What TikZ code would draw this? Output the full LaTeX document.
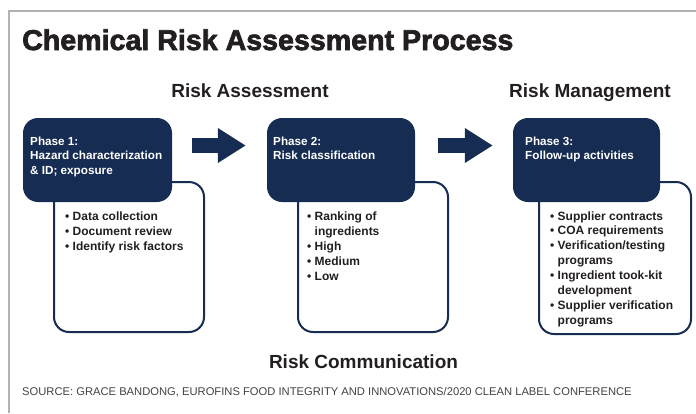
\documentclass[tikz,border=0pt]{standalone}
\usepackage{fontspec}
\setmainfont{Liberation Sans}
\newfontfamily\heavyfont{Liberation Sans Bold}[FakeBold=2.5]
\usetikzlibrary{arrows.meta, calc}
\definecolor{NavyBox}{RGB}{22, 44, 82}
\definecolor{InkDark}{RGB}{35, 31, 32}
\definecolor{FrameGray}{RGB}{178, 178, 178}

\begin{document}
\begin{tikzpicture}[x=1pt, y=-1pt,
    phasebox/.style={fill=NavyBox, rounded corners=15pt, inner sep=0pt},
    listbox/.style={draw=NavyBox, line width=2pt, fill=white, rounded corners=15pt, inner sep=0pt},
    headtext/.style={anchor=base west, inner sep=0pt, text=white, font=\bfseries\fontsize{11.7}{14}\selectfont},
    itemtext/.style={anchor=base west, inner sep=0pt, text=InkDark, font=\bfseries\fontsize{12}{14}\selectfont},
    stagelabel/.style={anchor=base, inner sep=0pt, text=InkDark, font=\bfseries\fontsize{19}{22}\selectfont},
    blockarrow/.style={NavyBox, line width=15pt, -{Triangle[length=28pt, width=33pt]}}]
    \useasboundingbox (0,0) rectangle (696,413);

    % Frame
    \draw[FrameGray, line width=1.2pt] (9,413) -- (9,11) -- (696,11);

    % Title and stage labels
    \node[anchor=base west, inner sep=0pt, text=InkDark, font=\heavyfont\fontsize{28.6}{30}\selectfont] (title) at (22,50) {Chemical Risk Assessment Process};
    \node[stagelabel] (assess) at (250,97) {Risk Assessment};
    \node[stagelabel] (manage) at (590,97) {Risk Management};
    \node[stagelabel] (comm) at (363.5,368) {Risk Communication};

    % List boxes (behind)
    \node[listbox, minimum width=150pt, minimum height=150pt] (list1) at (129,257) {};
    \node[listbox, minimum width=150pt, minimum height=150pt] (list2) at (373,257) {};
    \node[listbox, minimum width=152pt, minimum height=152pt] (list3) at (615,258) {};

    % Phase boxes
    \node[phasebox, minimum width=149pt, minimum height=84pt] (ph1) at (97.5,160) {};
    \node[phasebox, minimum width=148pt, minimum height=84pt] (ph2) at (341,160) {};
    \node[phasebox, minimum width=147pt, minimum height=84pt] (ph3) at (586.5,160) {};

    % Arrows between phases
    \draw[blockarrow] ($(ph1.east)+(20,-14.5)$) -- ($(ph2.west)+(-21,-14.5)$);
    \draw[blockarrow] ($(ph2.east)+(23,-14.5)$) -- ($(ph3.west)+(-20,-14.5)$);

    % Phase headings
    \foreach \t [count=\i] in {Phase 1:, Hazard characterization, {\& ID; exposure}}
        \node[headtext] (h1-\i) at (30,{145+14.5*(\i-1)}) {\t};
    \foreach \t [count=\i] in {Phase 2:, Risk classification}
        \node[headtext] (h2-\i) at (273,{145+14.5*(\i-1)}) {\t};
    \foreach \t [count=\i] in {Phase 3:, Follow-up activities}
        \node[headtext] (h3-\i) at (525,{145+14.5*(\i-1)}) {\t};

    % Bullet lists
    \foreach \t [count=\i] in {Data collection, Document review, Identify risk factors}
        \node[itemtext] (l1-\i) at (65,{220+15*(\i-1)}) {\textbullet\ \t};
    \foreach \t [count=\i] in {{\textbullet\ Ranking of}, {\hphantom{\textbullet\ }ingredients},
            {\textbullet\ High}, {\textbullet\ Medium}, {\textbullet\ Low}}
        \node[itemtext] (l2-\i) at (307,{220+15*(\i-1)}) {\t};
    \foreach \t [count=\i] in {{\textbullet\ Supplier contracts}, {\textbullet\ COA requirements},
            {\textbullet\ Verification/testing}, {\hphantom{\textbullet\ }programs},
            {\textbullet\ Ingredient took-kit}, {\hphantom{\textbullet\ }development},
            {\textbullet\ Supplier verification}, {\hphantom{\textbullet\ }programs}}
        \node[itemtext] (l3-\i) at (550,{220+14.9*(\i-1)}) {\t};

    % Source line
    \node[anchor=base west, inner sep=0pt, text=InkDark!85, font=\fontsize{11.2}{13}\selectfont] (source) at (22,395)
        {SOURCE: GRACE BANDONG, EUROFINS FOOD INTEGRITY AND INNOVATIONS/2020 CLEAN LABEL CONFERENCE};
\end{tikzpicture}
\end{document}
